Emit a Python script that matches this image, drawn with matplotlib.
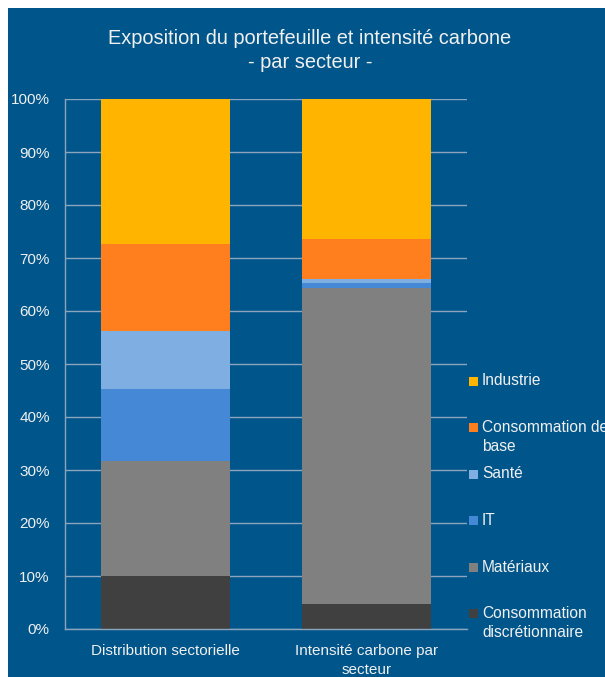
import matplotlib.pyplot as plt
from matplotlib.patches import Rectangle

plt.rcParams['font.family'] = ['Liberation Sans', 'DejaVu Sans']

categories = ["Distribution sectorielle", "Intensité carbone par\nsecteur"]
sectors = ["Consommation\ndiscrétionnaire", "Matériaux", "IT", "Santé",
           "Consommation de\nbase", "Industrie"]
# share of each sector (%) for the two bars
values = {
    "Consommation\ndiscrétionnaire": [10.0, 4.7],
    "Matériaux": [21.7, 59.7],
    "IT": [13.6, 0.8],
    "Santé": [10.9, 0.8],
    "Consommation de\nbase": [16.5, 7.5],
    "Industrie": [27.3, 26.5],
}
colors = ["#404040", "#808080", "#4589D6", "#7FAEE3", "#FF7F1F", "#FFB400"]

bg = "#00558A"
txt = "#F0F0F0"
grid = "#8BA5BF"

W, H = 605, 677
fig = plt.figure(figsize=(W / 100, H / 100), dpi=100, facecolor="white")
fig.patches.append(Rectangle((8 / W, 0), 1, 1 - 8 / H, transform=fig.transFigure,
                             facecolor=bg, edgecolor="none", zorder=-1))

ax = fig.add_axes([65 / W, (H - 629) / H, (467 - 65) / W, (629 - 99) / H])
ax.set_facecolor(bg)

x = list(range(len(categories)))
bottom = [0.0] * len(categories)
for name, c in zip(sectors, colors):
    ax.bar(x, values[name], bottom=bottom, width=0.64, color=c, zorder=3)
    bottom = [b + v for b, v in zip(bottom, values[name])]

ax.set_ylim(0, 100)
ax.set_xlim(-0.5, 1.5)
ax.set_yticks(range(0, 101, 10))
ax.set_yticklabels([f"{t}%" for t in range(0, 101, 10)])
ax.set_xticks(x)
ax.set_xticklabels(categories, linespacing=1.42)
ax.tick_params(length=0, colors=txt, labelsize=11)
ax.tick_params(axis="y", pad=11)
ax.tick_params(axis="x", pad=11)
ax.grid(axis="y", color=grid, linewidth=1, zorder=1)
for s in ["top", "right"]:
    ax.spines[s].set_visible(False)
for s in ["left", "bottom"]:
    ax.spines[s].set_color(grid)
    ax.spines[s].set_linewidth(1)
    ax.spines[s].set_zorder(4)

fig.text(310 / W, 1 - 38 / H, "Exposition du portefeuille et intensité carbone",
         ha="center", va="center", color=txt, fontsize=14.4)
fig.text(310 / W, 1 - 62 / H, "- par secteur -",
         ha="center", va="center", color=txt, fontsize=14.4)

# legend, drawn by hand so markers line up with the first line of text
line_h = 19
for i, (name, c) in enumerate(zip(sectors[::-1], colors[::-1])):
    ym = 381 + i * 46.5
    fig.patches.append(Rectangle((469 / W, 1 - (ym + 4.5) / H), 9 / W, 9 / H,
                                 transform=fig.transFigure, facecolor=c,
                                 edgecolor="none", zorder=5))
    nlines = name.count("\n") + 1
    yc = ym + (nlines - 1) * line_h / 2
    fig.text(482 / W, 1 - yc / H, name, ha="left", va="center", color=txt,
             fontsize=11.2, linespacing=1.3)

plt.savefig("out.png", dpi=100, facecolor="white")
